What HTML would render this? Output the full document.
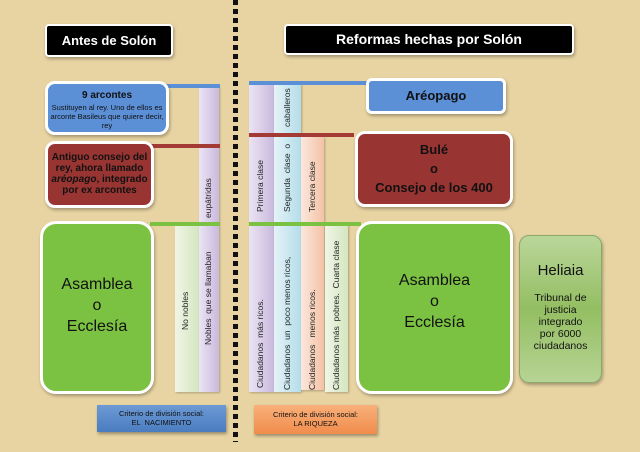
<!DOCTYPE html>
<html><head><meta charset="utf-8"><style>
body{margin:0;width:640px;height:452px;overflow:hidden;background:#e8d4a2;font-family:"Liberation Sans",Arial,sans-serif;position:relative}
.a{position:absolute;box-sizing:border-box}
.hdr{background:#000;color:#fff;border:2px solid #fff;border-radius:4px;font-weight:bold;text-align:center;box-shadow:1px 2px 3px rgba(0,0,0,.3)}
.box{border:3px solid #fff;border-radius:10px;text-align:center;box-shadow:1px 2px 3px rgba(0,0,0,.3)}
.col{box-shadow:1px 1px 2px rgba(0,0,0,.25)}
.v{position:absolute;writing-mode:vertical-rl;transform:rotate(180deg);font-size:8.5px;color:#222;white-space:nowrap;text-align:left;line-height:1}
.bar{position:absolute}
</style></head><body>
<div class="a" style="left:233px;top:0;width:5px;height:442px;background:repeating-linear-gradient(to bottom,#111 0 5px,transparent 5px 9px)"></div>

<div class="a hdr" style="left:45px;top:24px;width:128px;height:33px;font-size:13px;line-height:29px">Antes de Solón</div>
<div class="a hdr" style="left:284px;top:24px;width:290px;height:31px;font-size:14px;line-height:27px">Reformas hechas por Solón</div>

<div class="a col" style="left:175px;top:226px;width:24px;height:166px;background:linear-gradient(90deg,#f0f5e6,#d4e6c0)"></div>
<div class="a col" style="left:199px;top:86px;width:20px;height:306px;background:linear-gradient(90deg,#ece4f4,#c9b9dd)"></div>
<div class="v" style="left:181px;top:280px;height:50px">No nobles</div>
<div class="v" style="left:204px;top:240px;height:105px">Nobles &nbsp;que se llamaban</div>
<div class="v" style="left:204px;top:170px;height:48px">eupátridas</div>

<div class="bar" style="left:150px;top:84px;width:70px;height:4px;background:#5b8fd6"></div>
<div class="bar" style="left:150px;top:144px;width:70px;height:4px;background:#a33a36"></div>
<div class="bar" style="left:150px;top:222px;width:70px;height:4px;background:#7cc242"></div>

<div class="a box" style="left:45px;top:81px;width:124px;height:54px;background:#5b8fd6;color:#111">
<div style="font-size:10px;font-weight:bold;margin-top:6px">9 arcontes</div>
<div style="font-size:7.5px;line-height:9px;margin-top:2px">Sustituyen al rey. Uno de ellos es arconte Basileus que quiere decir, rey</div></div>
<div class="a box" style="left:45px;top:141px;width:109px;height:67px;background:#983533;color:#111;font-size:10px;font-weight:bold;line-height:11px;padding:8px 2px 0">Antiguo consejo del rey, ahora llamado <i>aréopago</i>, integrado por ex arcontes</div>
<div class="a box" style="left:40px;top:221px;width:114px;height:173px;background:#7cc242;color:#111;font-size:16px;line-height:21px;padding-top:50px;border-radius:16px">Asamblea<br>o<br>Ecclesía</div>

<div class="a col" style="left:249px;top:84px;width:25px;height:308px;background:linear-gradient(90deg,#ece4f4,#c9b9dd)"></div>
<div class="a col" style="left:274px;top:84px;width:27px;height:308px;background:linear-gradient(90deg,#e4f3f7,#b4dde9)"></div>
<div class="a col" style="left:301px;top:137px;width:23px;height:253px;background:linear-gradient(90deg,#fbe7dc,#f4c2a6)"></div>
<div class="a col" style="left:325px;top:224px;width:23px;height:168px;background:linear-gradient(90deg,#f0f5e6,#d4e6c0)"></div>
<div class="bar" style="left:249px;top:81px;width:118px;height:4px;background:#5b8fd6"></div>
<div class="bar" style="left:249px;top:133px;width:105px;height:4px;background:#a33a36"></div>
<div class="bar" style="left:249px;top:222px;width:112px;height:4px;background:#7cc242"></div>

<div class="v" style="left:256px;top:290px;height:98px">Ciudadanos &nbsp;más ricos.</div>
<div class="v" style="left:256px;top:150px;height:62px">Primera clase</div>
<div class="v" style="left:283px;top:245px;height:145px">Ciudadanos &nbsp;un &nbsp;poco menos ricos,</div>
<div class="v" style="left:283px;top:140px;height:72px">Segunda &nbsp;clase &nbsp;o</div>
<div class="v" style="left:283px;top:85px;height:42px">caballeros</div>
<div class="v" style="left:308px;top:280px;height:110px">Ciudadanos &nbsp;&nbsp;menos ricos.</div>
<div class="v" style="left:308px;top:150px;height:62px">Tercera clase</div>
<div class="v" style="left:332px;top:230px;height:160px">Ciudadanos más &nbsp;pobres. &nbsp;Cuarta clase</div>

<div class="a box" style="left:366px;top:78px;width:140px;height:36px;background:#5b8fd6;color:#111;font-size:13px;font-weight:bold;line-height:30px;border-radius:6px">Aréopago</div>
<div class="a box" style="left:355px;top:131px;width:158px;height:76px;background:#983533;color:#111;font-size:13px;font-weight:bold;line-height:19px;padding-top:6px">Bulé<br>o<br>Consejo de los 400</div>
<div class="a box" style="left:356px;top:221px;width:157px;height:173px;background:#7cc242;color:#111;font-size:16px;line-height:21px;padding-top:46px;border-radius:16px">Asamblea<br>o<br>Ecclesía</div>
<div class="a" style="left:519px;top:235px;width:83px;height:148px;background:linear-gradient(#bad69a,#94be62,#b6d494);border:1px solid #8aa868;border-radius:10px;text-align:center;color:#111;box-shadow:1px 2px 3px rgba(0,0,0,.3);padding:0 10px">
<div style="font-size:15px;margin-top:26px">Heliaia</div>
<div style="font-size:10.5px;line-height:12px;margin-top:13px">Tribunal de justicia integrado por 6000 ciudadanos</div></div>

<div class="a" style="left:97px;top:405px;width:129px;height:27px;background:linear-gradient(#6d9ad4,#4a7cc0);color:#111;font-size:7.5px;text-align:center;line-height:9px;padding-top:4px;box-shadow:1px 2px 3px rgba(0,0,0,.35)">Criterio de división social:<br>EL &nbsp;NACIMIENTO</div>
<div class="a" style="left:254px;top:405px;width:123px;height:29px;background:linear-gradient(#f9b07a,#f08c4c);color:#111;font-size:7.5px;text-align:center;line-height:9px;padding-top:5px;box-shadow:1px 2px 3px rgba(0,0,0,.35)">Criterio de división social:<br>LA RIQUEZA</div>
</body></html>
